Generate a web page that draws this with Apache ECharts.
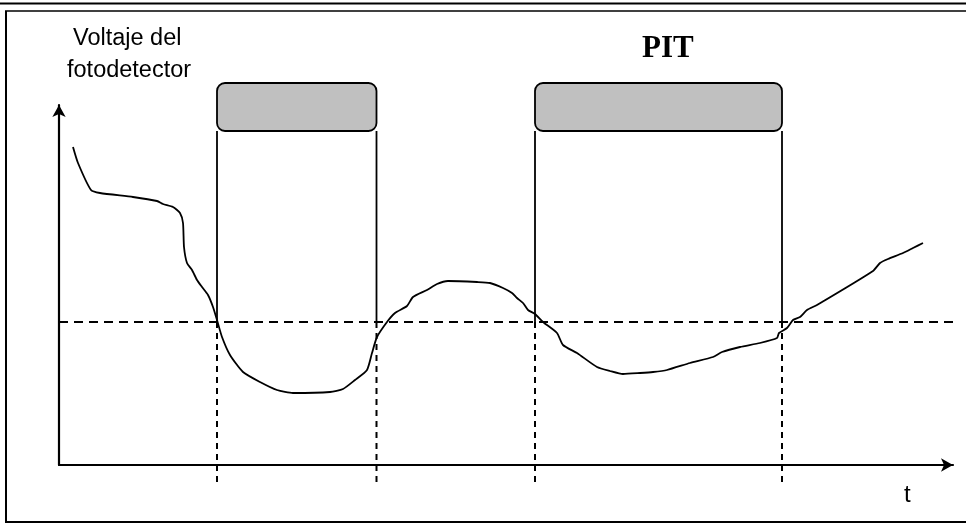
<!DOCTYPE html>
<html>
<head>
<meta charset="utf-8">
<script src="https://cdn.jsdelivr.net/npm/echarts@6/dist/echarts.min.js"></script>
<style>
html,body{margin:0;padding:0;background:#fff;}
#main{width:966px;height:524px;}
</style>
</head>
<body>
<div id="main"></div>
<script>
// tiempo (eje x) y voltaje del fotodetector (eje y), en unidades arbitrarias
var tiempo = [14, 19, 32, 41, 74, 98, 104, 114, 121, 124, 125, 128, 133, 138, 143, 149, 154, 158, 163, 171,
    184, 201, 218, 234, 271, 284, 296, 308, 313, 318, 328, 336, 348, 354, 368, 378, 389, 418, 431, 444,
    453, 458, 464, 469, 476, 484, 498, 504, 518, 538, 551, 564, 581, 594, 608, 631, 654, 663, 681, 701,
    718, 720, 728, 734, 741, 748, 758, 814, 821, 829, 844, 854, 864];
var voltaje = [318, 302, 275, 272, 268, 264, 261, 258, 252, 242, 218, 202, 195, 185, 178, 170, 158, 145, 128, 110,
    93, 83, 75, 72, 73, 76, 85, 95, 112, 128, 143, 152, 159, 168, 175, 181, 184, 183, 182, 177,
    172, 167, 162, 155, 151, 143, 132, 120, 112, 98, 94, 91, 92, 93, 95, 102, 108, 113, 118, 122,
    127, 132, 137, 145, 148, 155, 160, 194, 202, 206, 212, 217, 222];
// nivel de decision
var umbral = 143;
// bordes de los pits (tiempo)
var bordesPit = [158, 317.5, 476, 723];
var pits = [[158, 317.5], [476, 723]];
// niveles de la barra y del corte inferior
var nivelBarra = [334, 382];
var nivelCorte = -17;

var curva = [];
for (var i = 0; i < tiempo.length; i++) {
    curva.push([tiempo[i], voltaje[i]]);
}

var myChart = echarts.init(document.getElementById('main'));
var option = {
    animation: false,
    backgroundColor: '#fff',
    grid: {left: 59, right: 13, top: 105, bottom: 59},
    xAxis: {
        type: 'value', min: 0, max: 894,
        splitLine: {show: false}, axisTick: {show: false}, axisLabel: {show: false},
        axisLine: {show: true, onZero: false, symbol: ['none', 'arrow'], symbolSize: [10, 12],
            lineStyle: {color: '#000', width: 2.2}}
    },
    yAxis: {
        type: 'value', min: 0, max: 360,
        splitLine: {show: false}, axisTick: {show: false}, axisLabel: {show: false},
        axisLine: {show: true, onZero: false, symbol: ['none', 'arrow'], symbolSize: [10, 12],
            lineStyle: {color: '#000', width: 2.2}}
    },
    graphic: [
        {type: 'line', shape: {x1: 0, y1: 3.5, x2: 966, y2: 3.5}, style: {stroke: '#000', lineWidth: 2}},
        {type: 'line', shape: {x1: 5, y1: 11, x2: 966, y2: 11}, style: {stroke: '#000', lineWidth: 1.5}},
        {type: 'line', shape: {x1: 6, y1: 11, x2: 6, y2: 522}, style: {stroke: '#000', lineWidth: 2}},
        {type: 'line', shape: {x1: 5, y1: 522, x2: 966, y2: 522}, style: {stroke: '#000', lineWidth: 2}},
        {type: 'text', left: 73, top: 27, style: {text: 'Voltaje del', font: '23.5px "Liberation Sans", Arial, sans-serif', fill: '#000'}},
        {type: 'text', left: 67, top: 59, style: {text: 'fotodetector', font: '23.5px "Liberation Sans", Arial, sans-serif', fill: '#000'}},
        {type: 'text', left: 642, top: 33, style: {text: 'PIT', font: 'bold 31px "Liberation Serif", "Times New Roman", serif', fill: '#000'}},
        {type: 'text', left: 904, top: 483, style: {text: 't', font: '24px "Liberation Sans", Arial, sans-serif', fill: '#000'}}
    ],
    series: [
        {
            type: 'custom',
            clip: false,
            encode: {x: [0, 1], y: 2},
            data: pits.map(function (p) { return [p[0], p[1], nivelBarra[0]]; }),
            renderItem: function (params, api) {
                var a = api.coord([api.value(0), nivelBarra[1]]);
                var b = api.coord([api.value(1), nivelBarra[0]]);
                return {
                    type: 'rect',
                    shape: {x: a[0], y: a[1], width: b[0] - a[0], height: b[1] - a[1], r: 8},
                    style: {fill: '#c0c0c0', stroke: '#000', lineWidth: 1.8}
                };
            }
        },
        {
            type: 'custom',
            clip: false,
            encode: {x: 0, y: 1},
            data: bordesPit.map(function (x) { return [x, umbral]; }),
            renderItem: function (params, api) {
                var x = api.value(0);
                var top = api.coord([x, nivelBarra[0]]);
                var mid = api.coord([x, umbral]);
                var bot = api.coord([x, nivelCorte]);
                return {
                    type: 'group',
                    children: [
                        {type: 'line', shape: {x1: top[0], y1: top[1], x2: mid[0], y2: mid[1]},
                            style: {stroke: '#000', lineWidth: 1.8}},
                        {type: 'line', shape: {x1: mid[0], y1: mid[1], x2: bot[0], y2: bot[1]},
                            style: {stroke: '#000', lineWidth: 2, lineDash: [6, 5]}}
                    ]
                };
            }
        },
        {
            type: 'line',
            data: curva,
            showSymbol: false,
            smooth: 0.2,
            lineStyle: {color: '#000', width: 1.8},
            markLine: {
                silent: true,
                symbol: 'none',
                label: {show: false},
                lineStyle: {color: '#000', width: 2, type: [9, 6]},
                data: [{yAxis: umbral}]
            }
        }
    ]
};
myChart.setOption(option);
</script>
</body>
</html>
